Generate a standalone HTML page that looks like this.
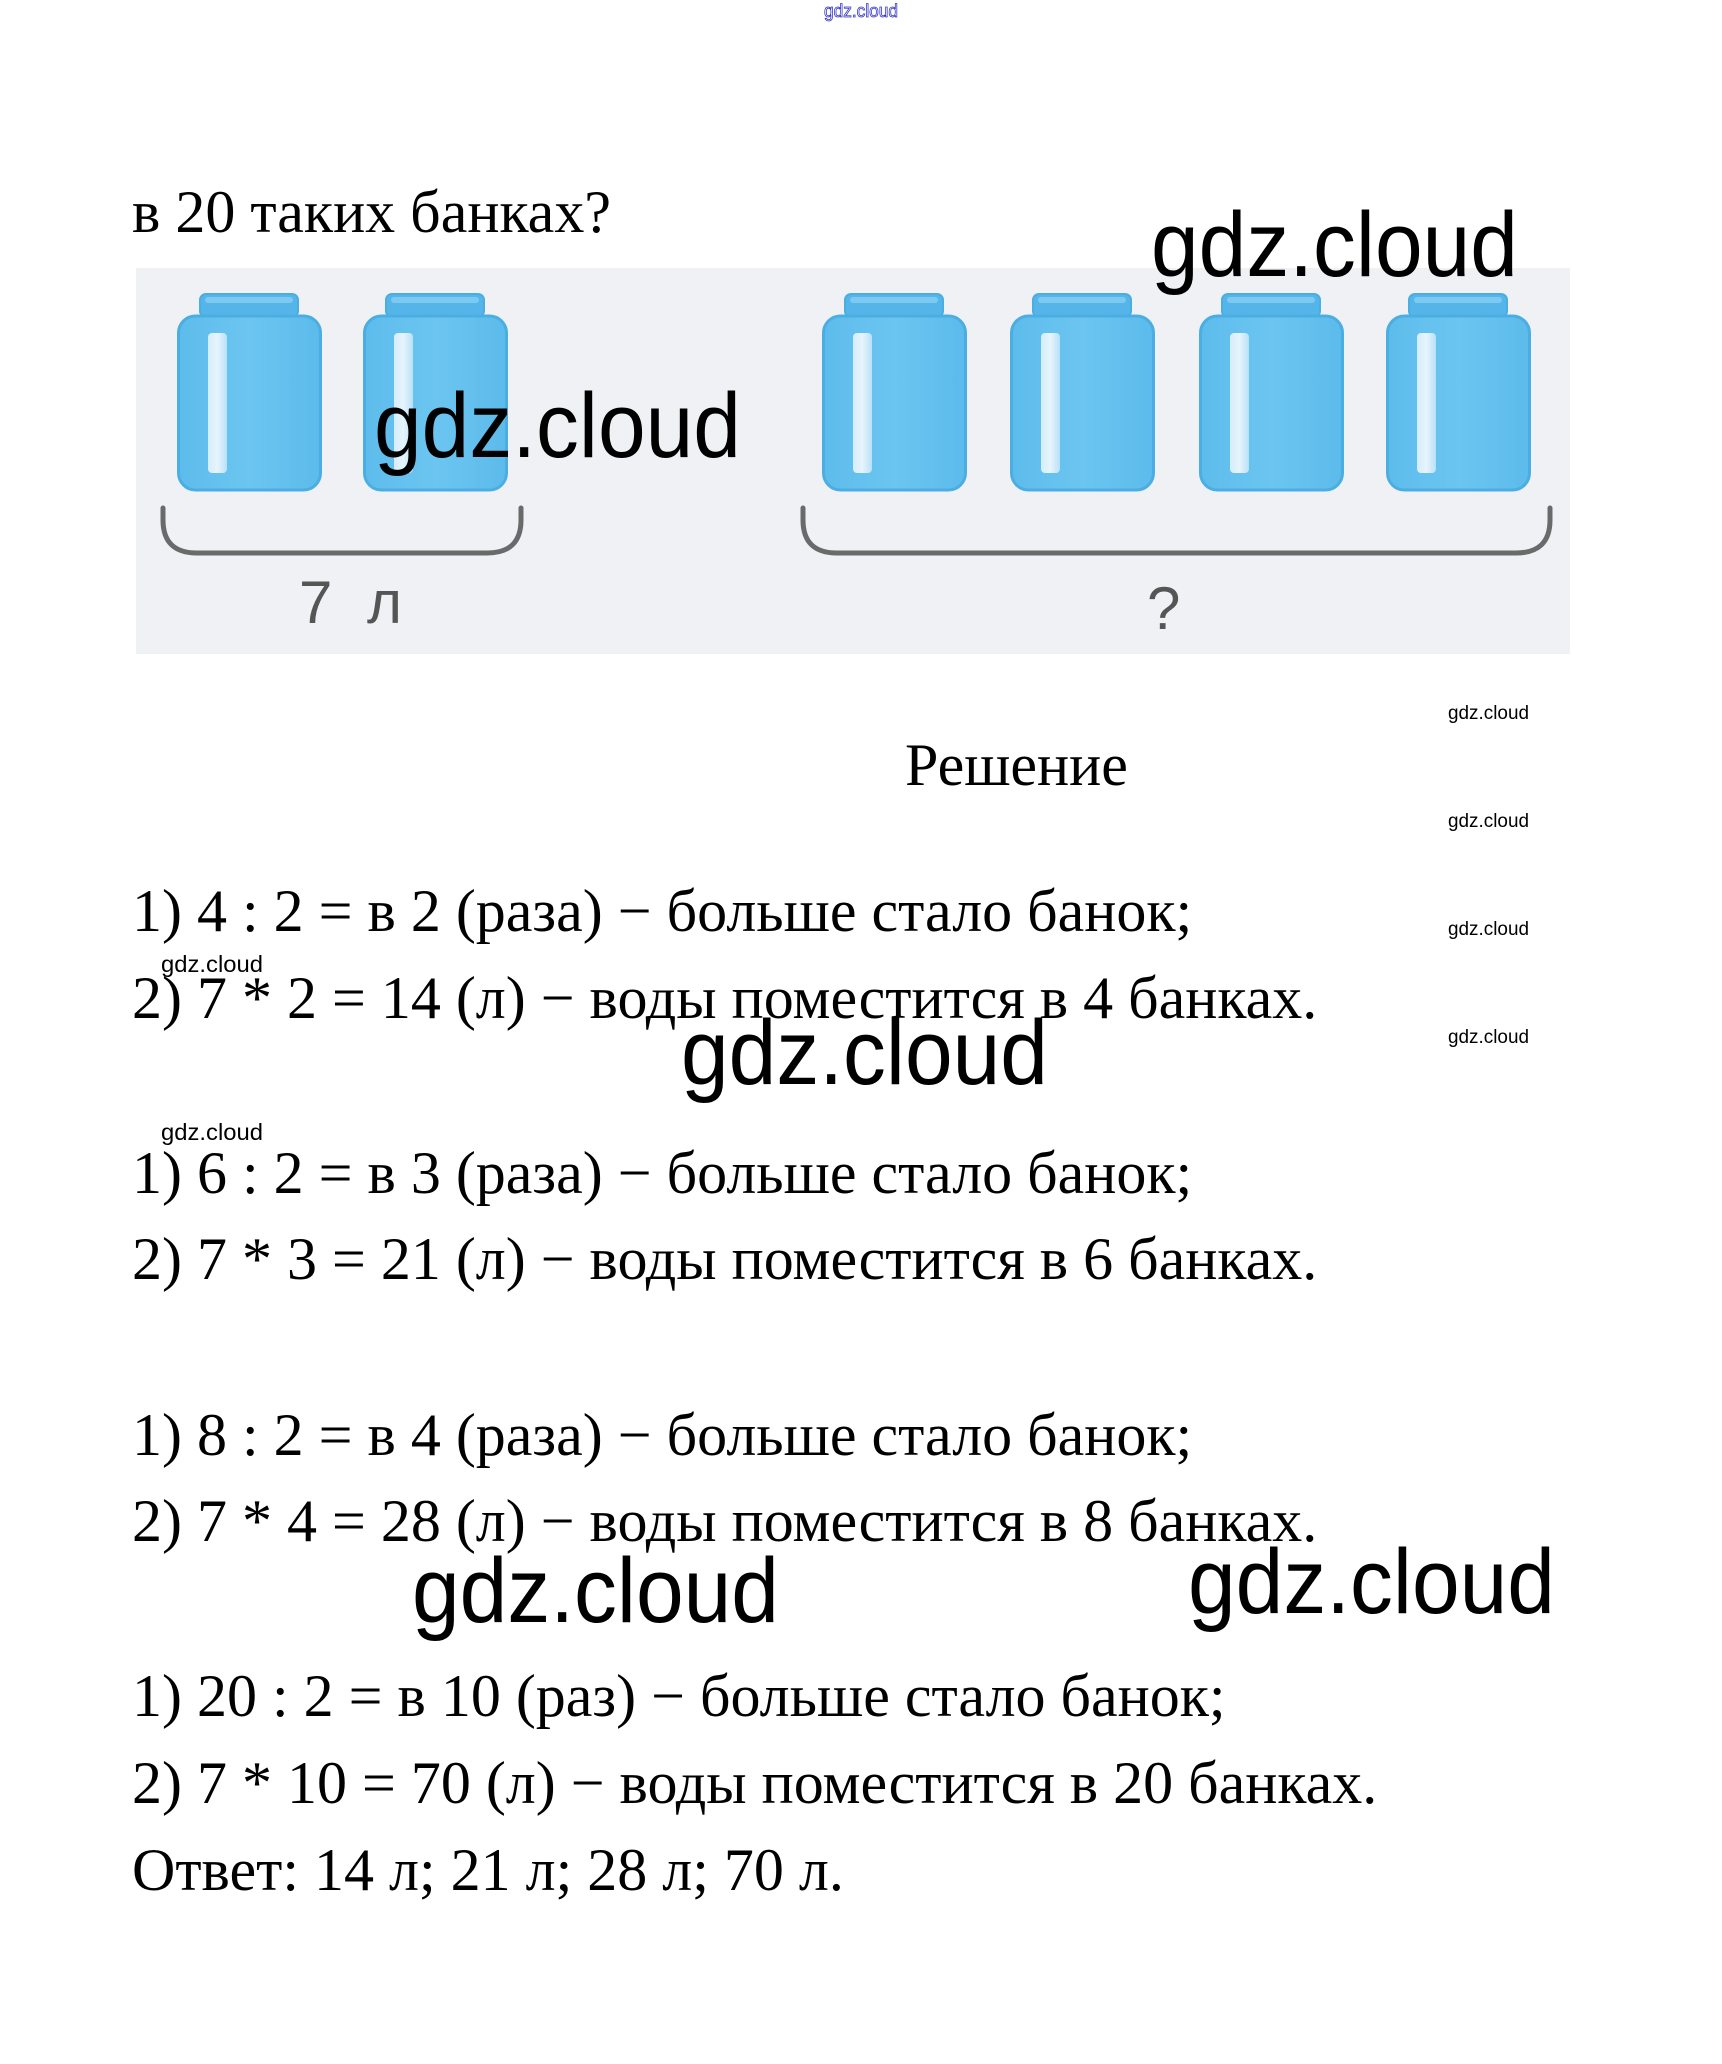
<!DOCTYPE html>
<html>
<head>
<meta charset="utf-8">
<style>
html,body{margin:0;padding:0;background:#fff;}
svg{display:block;}
.serif{font-family:"Liberation Serif","Noto Serif CJK SC",serif;font-size:60px;fill:#000;}
.wm{font-family:"Liberation Sans","Noto Sans CJK SC",sans-serif;fill:#000;}
</style>
</head>
<body>
<svg width="1722" height="2064" viewBox="0 0 1722 2064" xmlns="http://www.w3.org/2000/svg">
  <defs>
    <linearGradient id="jb" x1="0" y1="0" x2="1" y2="0">
      <stop offset="0" stop-color="#5dbcec"/>
      <stop offset="0.5" stop-color="#6cc5f0"/>
      <stop offset="1" stop-color="#5cbbeb"/>
    </linearGradient>
    <linearGradient id="hl" x1="0" y1="0" x2="1" y2="0">
      <stop offset="0" stop-color="#dff1fb"/>
      <stop offset="0.5" stop-color="#f2f9fd"/>
      <stop offset="1" stop-color="#bfe3f7"/>
    </linearGradient>
    <g id="jar">
      <rect x="23" y="294" width="98" height="23" rx="6" fill="#55b5e8" stroke="#4aaee3" stroke-width="2"/>
      <rect x="28" y="297" width="88" height="6" rx="3" fill="#7ccaf1"/>
      <rect x="1.5" y="316" width="142" height="174" rx="17" fill="url(#jb)" stroke="#4aaee3" stroke-width="3"/>
      <rect x="31" y="333" width="19" height="140" rx="4" fill="url(#hl)" opacity="0.92"/>
    </g>
  </defs>

  <!-- top blue watermark -->
  <text x="824" y="17" font-family="Liberation Sans, sans-serif" font-size="18" fill="none" stroke="#3434c4" stroke-width="0.8" textLength="74" lengthAdjust="spacingAndGlyphs">gdz.cloud</text>

  <!-- heading -->
  <text class="serif" x="132" y="232">в 20 таких банках?</text>

  <!-- picture box -->
  <rect x="136" y="268" width="1434" height="386" fill="#eff1f5"/>

  <use href="#jar" x="177" y="0"/>
  <use href="#jar" x="363" y="0"/>
  <use href="#jar" x="822" y="0"/>
  <use href="#jar" x="1010" y="0"/>
  <use href="#jar" x="1199" y="0"/>
  <use href="#jar" x="1386" y="0"/>

  <!-- braces -->
  <path d="M163,508 L163,520 Q163,553 197,553 L487,553 Q521,553 521,520 L521,508" fill="none" stroke="#6a6a6a" stroke-width="5" stroke-linecap="round"/>
  <path d="M803,508 L803,520 Q803,553 837,553 L1516,553 Q1550,553 1550,520 L1550,508" fill="none" stroke="#6a6a6a" stroke-width="5" stroke-linecap="round"/>

  <text x="299" y="623" font-family="Liberation Sans, sans-serif" font-size="60" fill="#555">7</text>
  <text x="367" y="623" font-family="Liberation Sans, sans-serif" font-size="60" fill="#555">л</text>
  <text x="1147" y="629" font-family="Liberation Sans, sans-serif" font-size="60" fill="#555">?</text>

  <!-- big watermarks -->
  <text class="wm" x="1151" y="276" font-size="92" textLength="367" lengthAdjust="spacingAndGlyphs">gdz.cloud</text>
  <text class="wm" x="374" y="457" font-size="92" textLength="367" lengthAdjust="spacingAndGlyphs">gdz.cloud</text>

  <!-- Решение -->
  <text class="serif" x="905" y="785">Решение</text>

  <!-- right small watermarks -->
  <text class="wm" x="1448" y="719" font-size="19" textLength="81" lengthAdjust="spacingAndGlyphs">gdz.cloud</text>
  <text class="wm" x="1448" y="827" font-size="19" textLength="81" lengthAdjust="spacingAndGlyphs">gdz.cloud</text>
  <text class="wm" x="1448" y="935" font-size="19" textLength="81" lengthAdjust="spacingAndGlyphs">gdz.cloud</text>
  <text class="wm" x="1448" y="1043" font-size="19" textLength="81" lengthAdjust="spacingAndGlyphs">gdz.cloud</text>

  <!-- solution lines -->
  <text class="serif" x="132" y="931">1) 4 : 2 = в 2 (раза) − больше стало банок;</text>
  <text class="wm" x="161" y="972" font-size="23" textLength="102" lengthAdjust="spacingAndGlyphs">gdz.cloud</text>
  <text class="serif" x="132" y="1018">2) 7 * 2 = 14 (л) − воды поместится в 4 банках.</text>
  <text class="wm" x="681" y="1084" font-size="92" textLength="367" lengthAdjust="spacingAndGlyphs">gdz.cloud</text>

  <text class="wm" x="161" y="1140" font-size="23" textLength="102" lengthAdjust="spacingAndGlyphs">gdz.cloud</text>
  <text class="serif" x="132" y="1193">1) 6 : 2 = в 3 (раза) − больше стало банок;</text>
  <text class="serif" x="132" y="1279">2) 7 * 3 = 21 (л) − воды поместится в 6 банках.</text>

  <text class="serif" x="132" y="1455">1) 8 : 2 = в 4 (раза) − больше стало банок;</text>
  <text class="serif" x="132" y="1541">2) 7 * 4 = 28 (л) − воды поместится в 8 банках.</text>

  <text class="wm" x="412" y="1622" font-size="92" textLength="367" lengthAdjust="spacingAndGlyphs">gdz.cloud</text>
  <text class="wm" x="1188" y="1613" font-size="92" textLength="367" lengthAdjust="spacingAndGlyphs">gdz.cloud</text>

  <text class="serif" x="132" y="1716">1) 20 : 2 = в 10 (раз) − больше стало банок;</text>
  <text class="serif" x="132" y="1803">2) 7 * 10 = 70 (л) − воды поместится в 20 банках.</text>
  <text class="serif" x="132" y="1890">Ответ: 14 л; 21 л; 28 л; 70 л.</text>
</svg>
</body>
</html>
